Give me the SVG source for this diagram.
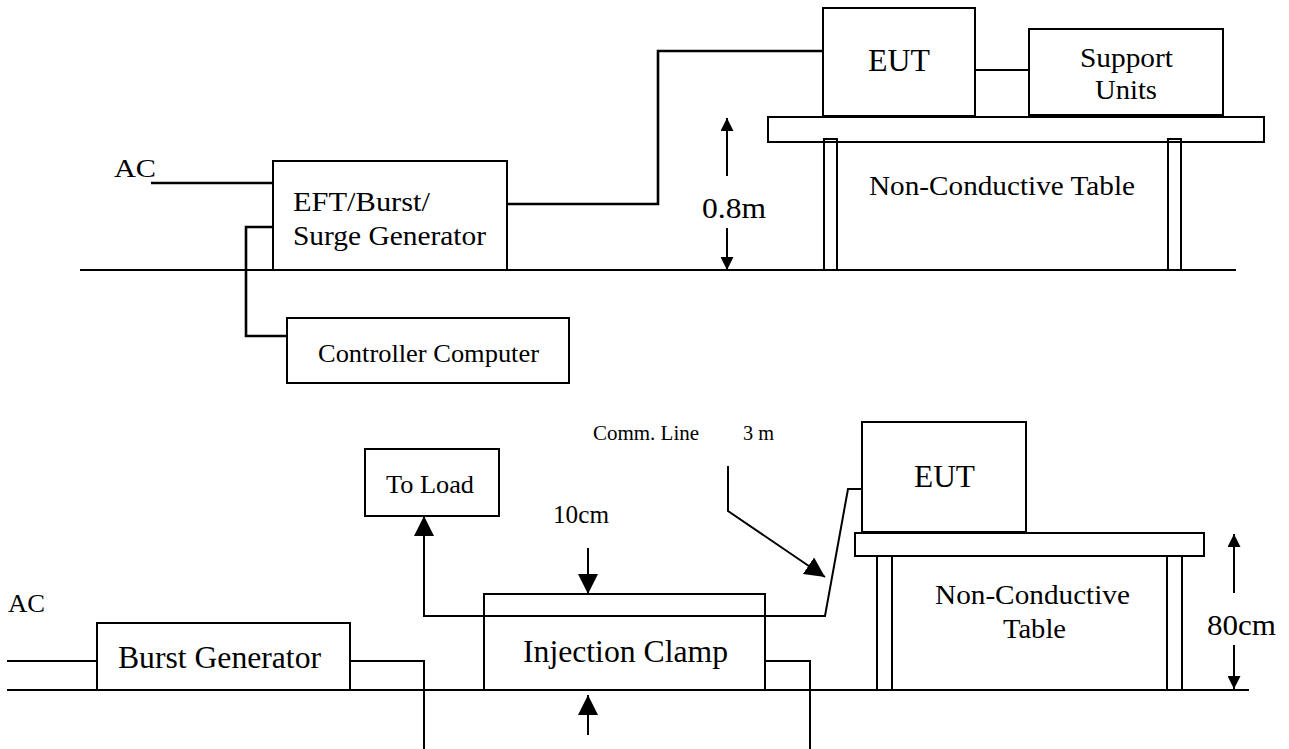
<svg xmlns="http://www.w3.org/2000/svg" width="1289" height="749" viewBox="0 0 1289 749">
<style>
.b{fill:none;stroke:#000;stroke-width:2}
.c{fill:none;stroke:#000;stroke-width:2}
.k{fill:none;stroke:#000;stroke-width:2.6}
.t{font-family:"Liberation Serif","Times New Roman",serif;fill:#000}
</style>
<defs>
<marker id="hs" markerUnits="userSpaceOnUse" viewBox="0 0 13 13" refX="13" refY="6.5" markerWidth="13" markerHeight="13" orient="auto"><path d="M0,0 L13,6.5 L0,13 z" fill="#000"/></marker>
<marker id="hb" markerUnits="userSpaceOnUse" viewBox="0 0 20 20" refX="20" refY="10" markerWidth="20" markerHeight="20" orient="auto"><path d="M0,0 L20,10 L0,20 z" fill="#000"/></marker>
</defs>
<rect width="1289" height="749" fill="#fff"/>

<g id="connectors">
<path class="c" d="M80 270 H1236"/>
<path class="k" d="M151 183 H273"/>
<path class="k" d="M273 227 H246 V336 H287"/>
<path class="k" d="M507 204 H658 V51 H823"/>
<path class="c" d="M975 70 H1029"/>
<path class="c" d="M727 176 V118" marker-end="url(#hs)"/>
<path class="c" d="M727 228 V270" marker-end="url(#hs)"/>

<path class="c" d="M7 690 H1249"/>
<path class="c" d="M7 661 H97"/>
<path class="c" d="M350 661 H424 V749"/>
<path class="c" d="M765 661 H810 V749"/>
<path class="c" d="M862 489 H848 L825 616 H424 V516" marker-end="url(#hb)"/>
<path class="c" d="M588 548 V594" marker-end="url(#hb)"/>
<path class="c" d="M588 735 V695" marker-end="url(#hb)"/>
<path class="c" d="M728 466 V511 L825 577" marker-end="url(#hb)"/>
<path class="c" d="M1234 593 V534" marker-end="url(#hs)"/>
<path class="c" d="M1234 645 V689" marker-end="url(#hs)"/>
</g>

<g id="top-ac"><text class="t" x="114" y="177" font-size="26" textLength="42" lengthAdjust="spacingAndGlyphs">AC</text></g>
<g id="top-generator">
<rect class="b" x="273" y="161" width="234" height="109"/>
<text class="t" x="293" y="211" font-size="27" textLength="137" lengthAdjust="spacingAndGlyphs">EFT/Burst/</text>
<text class="t" x="293" y="245" font-size="27" textLength="193" lengthAdjust="spacingAndGlyphs">Surge Generator</text>
</g>
<g id="top-controller">
<rect class="b" x="287" y="318" width="282" height="65"/>
<text class="t" x="318" y="362" font-size="25" textLength="221" lengthAdjust="spacingAndGlyphs">Controller Computer</text>
</g>
<g id="top-eut">
<rect class="b" x="823" y="8" width="152" height="108"/>
<text class="t" x="868" y="71" font-size="31" textLength="62" lengthAdjust="spacingAndGlyphs">EUT</text>
</g>
<g id="top-support">
<rect class="b" x="1029" y="29" width="194" height="86"/>
<text class="t" x="1080" y="67" font-size="27" textLength="93" lengthAdjust="spacingAndGlyphs">Support</text>
<text class="t" x="1095" y="99" font-size="27" textLength="62" lengthAdjust="spacingAndGlyphs">Units</text>
</g>
<g id="top-table">
<rect class="b" x="768" y="117" width="496" height="25"/>
<rect class="b" x="824" y="139" width="13" height="131"/>
<rect class="b" x="1168" y="139" width="13" height="131"/>
<text class="t" x="869" y="195" font-size="27" textLength="266" lengthAdjust="spacingAndGlyphs">Non-Conductive Table</text>
</g>
<g id="top-dim"><text class="t" x="702" y="218" font-size="30" textLength="64" lengthAdjust="spacingAndGlyphs">0.8m</text></g>

<g id="bot-ac"><text class="t" x="8" y="612" font-size="25" textLength="37" lengthAdjust="spacingAndGlyphs">AC</text></g>
<g id="bot-burst">
<rect class="b" x="97" y="623" width="253" height="67"/>
<text class="t" x="118" y="668" font-size="32" textLength="203" lengthAdjust="spacingAndGlyphs">Burst Generator</text>
</g>
<g id="bot-load">
<rect class="b" x="365" y="449" width="134" height="67"/>
<text class="t" x="386" y="493" font-size="26" textLength="88" lengthAdjust="spacingAndGlyphs">To Load</text>
</g>
<g id="bot-clamp">
<rect class="b" x="484" y="594" width="281" height="96"/>
<text class="t" x="523" y="662" font-size="32" textLength="205" lengthAdjust="spacingAndGlyphs">Injection Clamp</text>
</g>
<g id="bot-labels">
<text class="t" x="553" y="523" font-size="25" textLength="56" lengthAdjust="spacingAndGlyphs">10cm</text>
<text class="t" x="593" y="440" font-size="20" textLength="106" lengthAdjust="spacingAndGlyphs">Comm. Line</text>
<text class="t" x="743" y="440" font-size="20" textLength="31" lengthAdjust="spacingAndGlyphs">3 m</text>
<text class="t" x="1207" y="635" font-size="30" textLength="69" lengthAdjust="spacingAndGlyphs">80cm</text>
</g>
<g id="bot-eut">
<rect class="b" x="862" y="422" width="164" height="110"/>
<text class="t" x="914" y="487" font-size="31" textLength="61" lengthAdjust="spacingAndGlyphs">EUT</text>
</g>
<g id="bot-table">
<rect class="b" x="855" y="533" width="349" height="23"/>
<rect class="b" x="877" y="556" width="15" height="134"/>
<rect class="b" x="1167" y="556" width="15" height="134"/>
<text class="t" x="935" y="604" font-size="27" textLength="195" lengthAdjust="spacingAndGlyphs">Non-Conductive</text>
<text class="t" x="1003" y="638" font-size="27" textLength="63" lengthAdjust="spacingAndGlyphs">Table</text>
</g>
</svg>
